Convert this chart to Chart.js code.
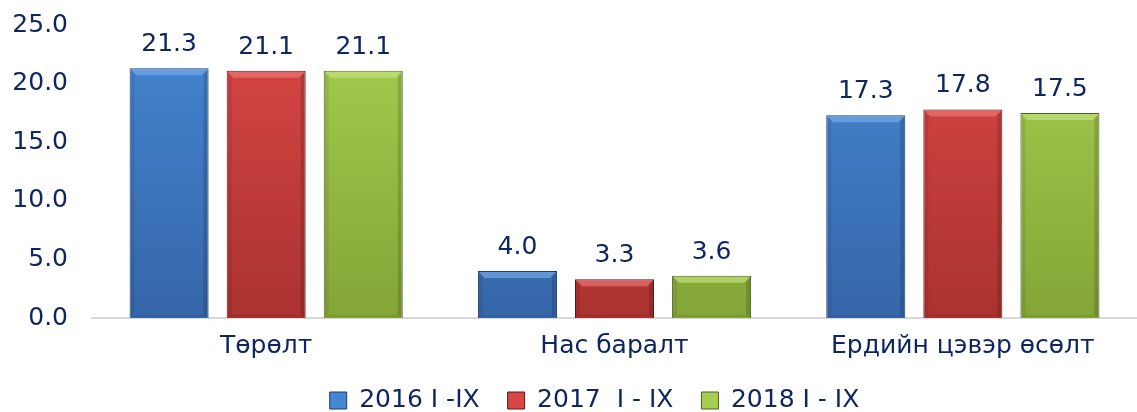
<!DOCTYPE html>
<html>
<head>
<meta charset="utf-8">
<script src="https://cdn.jsdelivr.net/npm/chart.js@4"></script>
<style>
  html, body { margin: 0; padding: 0; background: #fff; }
  #wrap { width: 1137px; height: 412px; }
</style>
</head>
<body>
<div id="wrap"><canvas id="chart"></canvas></div>
<script>
const categories = ['Төрөлт', 'Нас баралт', 'Ердийн цэвэр өсөлт'];
const seriesNames = ['2016 I -IX', '2017  I - IX', '2018 I - IX'];
const values2016 = [21.3, 4.0, 17.3];
const values2017 = [21.1, 3.3, 17.8];
const values2018 = [21.1, 3.6, 17.5];

const textColor = '#0F2760';
const fontFamily = '"DejaVu Sans", "Liberation Sans", sans-serif';
const fontSize = 25;

// top / bottom colours of each series, plus border and bevel highlight
const palette = [
    { top: '#4586D2', bottom: '#3666A9', border: '#1E3C6C', light: '#7DB2EE' },
    { top: '#D94745', bottom: '#AA3230', border: '#5A1817', light: '#F07F7C' },
    { top: '#A6CE50', bottom: '#84A537', border: '#4C611F', light: '#C9E886' }
];

function gradientFor(i) {
    return function (ctx) {
        const chart = ctx.chart;
        const area = chart.chartArea;
        if (!area) return palette[i].top;
        const g = chart.ctx.createLinearGradient(0, area.top, 0, area.bottom);
        g.addColorStop(0, palette[i].top);
        g.addColorStop(1, palette[i].bottom);
        return g;
    };
}

// soft bevel on the bars: light strip at the top, darker sides
const bevel = {
    id: 'bevel',
    afterDatasetsDraw(chart) {
        const ctx = chart.ctx;
        const e = 7;
        ctx.save();
        chart.data.datasets.forEach((ds, i) => {
            chart.getDatasetMeta(i).data.forEach(bar => {
                const l = bar.x - bar.width / 2, r = bar.x + bar.width / 2;
                const t = bar.y, b = bar.base;
                if (b - t < 2 * e) return;
                ctx.globalAlpha = 0.6;
                ctx.fillStyle = palette[i].light;
                ctx.beginPath();
                ctx.moveTo(l + 1, t + 1); ctx.lineTo(r - 1, t + 1);
                ctx.lineTo(r - e, t + e); ctx.lineTo(l + e, t + e);
                ctx.closePath(); ctx.fill();
                ctx.globalAlpha = 0.15;
                ctx.fillStyle = '#000';
                ctx.beginPath();
                ctx.moveTo(r - 1, t + 1); ctx.lineTo(r - 1, b - 1);
                ctx.lineTo(r - 5, b - 3); ctx.lineTo(r - 5, t + e);
                ctx.closePath(); ctx.fill();
                ctx.globalAlpha = 0.08;
                ctx.beginPath();
                ctx.moveTo(l + 1, b - 1); ctx.lineTo(r - 1, b - 1);
                ctx.lineTo(r - 5, b - 3); ctx.lineTo(l + 5, b - 3);
                ctx.closePath(); ctx.fill();
                ctx.beginPath();
                ctx.moveTo(l + 1, t + 1); ctx.lineTo(l + 1, b - 1);
                ctx.lineTo(l + 5, b - 3); ctx.lineTo(l + 5, t + e);
                ctx.closePath(); ctx.fill();
            });
        });
        ctx.restore();
    }
};

// draws the value above every bar
const valueLabels = {
    id: 'valueLabels',
    afterDatasetsDraw(chart) {
        const ctx = chart.ctx;
        ctx.save();
        ctx.fillStyle = textColor;
        ctx.font = fontSize + 'px ' + fontFamily;
        ctx.textAlign = 'center';
        ctx.textBaseline = 'alphabetic';
        chart.data.datasets.forEach((ds, i) => {
            chart.getDatasetMeta(i).data.forEach((bar, j) => {
                ctx.fillText(ds.data[j].toFixed(1), bar.x, bar.y - 17);
            });
        });
        ctx.restore();
    }
};

// category names under the axis (drawn here so the scale box does not clip them)
const categoryLabels = {
    id: 'categoryLabels',
    afterDraw(chart) {
        const ctx = chart.ctx;
        const xs = chart.scales.x;
        ctx.save();
        ctx.fillStyle = textColor;
        ctx.font = fontSize + 'px ' + fontFamily;
        ctx.textAlign = 'center';
        ctx.textBaseline = 'alphabetic';
        categories.forEach((c, i) => {
            ctx.fillText(c, xs.getPixelForTick(i), chart.chartArea.bottom + 35);
        });
        ctx.restore();
    }
};

// legend in the original sits a bit right of the canvas centre
const legendShift = {
    id: 'legendShift',
    afterLayout(chart) {
        if (chart.legend) chart.legend.left += 52;
    }
};

const allSeries = [values2016, values2017, values2018];

new Chart(document.getElementById('chart'), {
    type: 'bar',
    data: {
        labels: categories,
        datasets: allSeries.map((vals, i) => ({
            label: seriesNames[i],
            data: vals,
            backgroundColor: gradientFor(i),
            borderColor: palette[i].border,
            borderWidth: 1,
            categoryPercentage: 0.836,
            barPercentage: 0.814
        }))
    },
    options: {
        responsive: true,
        maintainAspectRatio: false,
        animation: false,
        layout: { padding: { top: 25, right: 0, left: 0, bottom: -11 } },
        plugins: {
            legend: {
                position: 'bottom',
                labels: {
                    color: textColor,
                    font: { size: fontSize, family: fontFamily },
                    boxWidth: 17,
                    boxHeight: 17,
                    padding: 28,
                    generateLabels(chart) {
                        return chart.data.datasets.map((ds, i) => ({
                            text: ds.label,
                            fillStyle: palette[i].top,
                            strokeStyle: palette[i].border,
                            lineWidth: 1,
                            fontColor: textColor,
                            datasetIndex: i
                        }));
                    }
                }
            },
            tooltip: { enabled: false }
        },
        scales: {
            x: {
                afterFit(scale) { scale.height = 42; },
                grid: { display: false },
                border: { color: '#D9D9D9', width: 2 },
                ticks: { display: false }
            },
            y: {
                min: 0,
                max: 25,
                afterFit(scale) {
                    scale.width = 92;
                    scale.paddingTop = 0;
                    scale.paddingBottom = 0;
                },
                grid: { display: false, drawTicks: false },
                border: { display: false },
                ticks: {
                    stepSize: 5,
                    color: textColor,
                    font: { size: fontSize, family: fontFamily },
                    padding: 24,
                    callback: v => v.toFixed(1)
                }
            }
        }
    },
    plugins: [bevel, valueLabels, categoryLabels, legendShift]
});
</script>
</body>
</html>
